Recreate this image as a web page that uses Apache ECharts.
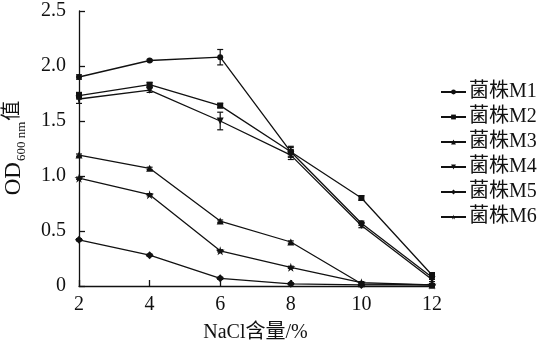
<!DOCTYPE html>
<html><head><meta charset="utf-8">
<script src="https://cdn.jsdelivr.net/npm/echarts@6/dist/echarts.min.js"></script>
<style>html,body{margin:0;padding:0;background:#fff}#c{width:545px;height:355px}</style>
</head><body><div id="c"></div>
<script>
const categories = [2, 4, 6, 8, 10, 12];
const seriesNames = ['菌株M1','菌株M2','菌株M3','菌株M4','菌株M5','菌株M6'];
const m1 = [1.90, 2.05, 2.08, 1.22, 0.57, 0.08];
const m2 = [1.73, 1.83, 1.64, 1.22, 0.80, 0.10];
const m3 = [1.19, 1.07, 0.59, 0.40, 0.02, 0.01];
const m4 = [1.70, 1.78, 1.50, 1.19, 0.55, 0.06];
const m5 = [0.42, 0.28, 0.07, 0.02, 0.01, 0.01];
const m6 = [0.98, 0.83, 0.32, 0.17, 0.03, 0.01];
const e1 = [0.02, 0.01, 0.07, 0.05, 0.02, 0.02];
const e2 = [0.03, 0.02, 0.02, 0.04, 0.02, 0.02];
const e3 = [0.01, 0.01, 0.01, 0.01, 0.01, 0.01];
const e4 = [0.04, 0.02, 0.08, 0.04, 0.02, 0.02];
const e5 = [0.01, 0.01, 0.01, 0.01, 0.01, 0.01];
const e6 = [0.01, 0.01, 0.01, 0.01, 0.01, 0.01];
const yTicks = [0, 0.5, 1.0, 1.5, 2.0, 2.5];

const star = 'path://M50,0 L61,35 L98,35 L68,57 L79,91 L50,70 L21,91 L32,57 L2,35 L39,35 Z';
const symbols = ['circle','rect','triangle','triangle','diamond', star];
const rotates = [0,0,0,180,0,0];
const sizes = [6,6,7,7,8,9];
const values = [m1,m2,m3,m4,m5,m6];
const errs = [e1,e2,e3,e4,e5,e6];
const C = '#111';
const FONT = '"Liberation Serif","Noto Sans CJK SC",serif';

const series = [];
values.forEach((v, i) => {
  series.push({
    name: seriesNames[i], type: 'line',
    data: categories.map((x, j) => [x, v[j]]),
    symbol: symbols[i], symbolSize: sizes[i], symbolRotate: rotates[i],
    itemStyle: {color: C}, lineStyle: {color: C, width: 1.3},
    z: 3
  });
  series.push({
    type: 'custom',
    data: categories.map((x, j) => [x, v[j] - errs[i][j], v[j] + errs[i][j]]),
    renderItem: function (params, api) {
      const lo = api.coord([api.value(0), api.value(1)]);
      const hi = api.coord([api.value(0), api.value(2)]);
      const hw = 3;
      const st = {stroke: C, lineWidth: 1.2};
      return {type: 'group', children: [
        {type: 'line', shape: {x1: lo[0], y1: lo[1], x2: hi[0], y2: hi[1]}, style: st},
        {type: 'line', shape: {x1: lo[0]-hw, y1: lo[1], x2: lo[0]+hw, y2: lo[1]}, style: st},
        {type: 'line', shape: {x1: hi[0]-hw, y1: hi[1], x2: hi[0]+hw, y2: hi[1]}, style: st}
      ]};
    },
    z: 2, silent: true
  });
});

const chart = echarts.init(document.getElementById('c'));
chart.setOption({
  animation: false,
  backgroundColor: '#fff',
  grid: {left: 79, right: 113, top: 11, bottom: 69},
  legend: {
    data: seriesNames, orient: 'vertical', left: 440, top: 82,
    itemWidth: 25, itemHeight: 6, itemGap: 5, padding: 0,
    textStyle: {fontFamily: FONT, fontSize: 20, lineHeight: 20, color: C, padding: [0,0,0,-2]},
    inactiveColor: C
  },
  xAxis: {
    type: 'value', min: 2, max: 12, interval: 2,
    axisLine: {lineStyle: {color: C, width: 1.3}},
    axisTick: {inside: true, length: 6, lineStyle: {color: C, width: 1.3}},
    axisLabel: {fontFamily: FONT, fontSize: 20, color: C, margin: 9},
    splitLine: {show: false},
    name: 'NaCl含量/%', nameLocation: 'middle', nameGap: 37,
    nameTextStyle: {fontFamily: FONT, fontSize: 20, color: C}
  },
  yAxis: {
    type: 'value', min: 0, max: 2.5, interval: 0.5,
    axisLine: {show: true, lineStyle: {color: C, width: 1.3}},
    axisTick: {show: true, inside: true, length: 6, lineStyle: {color: C, width: 1.3}},
    axisLabel: {fontFamily: FONT, fontSize: 20, color: C, margin: 13,
      formatter: v => (v === 0 ? '0' : v.toFixed(1))},
    splitLine: {show: false}
  },
  graphic: [{
    type: 'text', x: 13, y: 148, rotation: Math.PI / 2,
    style: {
      text: '{a|OD}{s|600 nm}{b|值}',
      align: 'center', verticalAlign: 'middle',
      rich: {
        a: {fontFamily: FONT, fontSize: 23, fill: C, verticalAlign: 'bottom', lineHeight: 24},
        b: {fontFamily: FONT, fontSize: 20, fill: C, verticalAlign: 'bottom', lineHeight: 24, padding: [0,0,2,0]},
        s: {fontFamily: FONT, fontSize: 13, fill: C, verticalAlign: 'bottom', lineHeight: 24, padding: [0,1,-3,1]}
      }
    }
  }],
  series: series
});
</script></body></html>
